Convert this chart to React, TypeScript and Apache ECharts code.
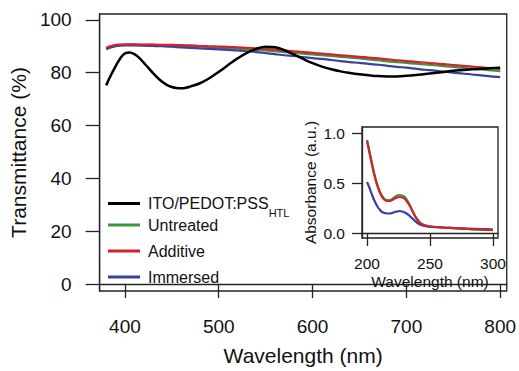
import { useEffect, useRef } from 'react';
import * as echarts from 'echarts';

const mainWavelengths = [380, 390, 400, 410, 420, 430, 440, 450, 460, 470, 480, 490, 500, 510, 520, 530, 540, 550, 560, 570, 580, 590, 600, 610, 620, 630, 640, 650, 660, 670, 680, 690, 700, 710, 720, 730, 740, 750, 760, 770, 780, 790, 800];
const itoWavelengths = [380, 385, 390, 395, 400, 405, 410, 415, 420, 425, 430, 435, 440, 445, 450, 455, 460, 465, 470, 480, 490, 500, 510, 520, 530, 540, 550, 560, 570, 580, 590, 600, 610, 620, 630, 640, 650, 660, 670, 680, 690, 700, 710, 720, 730, 740, 750, 760, 770, 780, 790, 800];
const itoPedot = [75.2, 79.0, 82.4, 85.4, 87.3, 87.6, 87.0, 85.7, 83.8, 81.8, 79.8, 78.0, 76.5, 75.3, 74.6, 74.2, 74.1, 74.3, 74.8, 76.0, 77.9, 80.3, 82.9, 85.4, 87.5, 89.0, 89.8, 89.6, 88.5, 86.9, 85.2, 83.6, 82.3, 81.3, 80.5, 79.9, 79.4, 79.0, 78.7, 78.6, 78.6, 78.8, 79.1, 79.5, 79.9, 80.3, 80.7, 81.0, 81.3, 81.5, 81.7, 81.9];
const untreated = [89.2, 90.3, 90.5, 90.6, 90.5, 90.5, 90.4, 90.3, 90.2, 90.1, 89.9, 89.7, 89.5, 89.3, 89.1, 88.9, 88.6, 88.4, 88.1, 87.8, 87.5, 87.2, 86.9, 86.6, 86.3, 86.0, 85.7, 85.4, 85.0, 84.7, 84.3, 84.0, 83.7, 83.4, 83.1, 82.8, 82.5, 82.2, 81.8, 81.5, 81.2, 80.9, 80.6];
const additive = [89.4, 90.5, 90.7, 90.7, 90.6, 90.6, 90.5, 90.5, 90.4, 90.3, 90.1, 90.0, 89.9, 89.8, 89.6, 89.4, 89.2, 89.0, 88.7, 88.4, 88.1, 87.8, 87.5, 87.2, 86.9, 86.6, 86.3, 86.0, 85.7, 85.4, 85.0, 84.7, 84.4, 84.1, 83.8, 83.5, 83.2, 82.9, 82.6, 82.3, 82.0, 81.7, 81.4];
const immersed = [88.9, 90.0, 90.3, 90.3, 90.2, 90.1, 90.0, 89.8, 89.6, 89.4, 89.2, 89.0, 88.8, 88.6, 88.4, 88.1, 87.8, 87.4, 87.0, 86.6, 86.3, 85.9, 85.5, 85.2, 84.8, 84.4, 84.0, 83.7, 83.3, 83.0, 82.6, 82.2, 81.9, 81.5, 81.1, 80.8, 80.4, 80.0, 79.7, 79.3, 79.0, 78.6, 78.3];

const insetWavelengths = [200, 202, 204, 206, 208, 210, 212, 214, 216, 218, 220, 222, 224, 226, 228, 230, 232, 234, 236, 238, 240, 242, 244, 246, 248, 250, 260, 270, 280, 290, 300];
const insetUntreated = [0.93, 0.81, 0.69, 0.58, 0.49, 0.42, 0.37, 0.34, 0.33, 0.33, 0.34, 0.36, 0.375, 0.38, 0.375, 0.36, 0.325, 0.28, 0.225, 0.175, 0.135, 0.105, 0.087, 0.076, 0.07, 0.065, 0.055, 0.047, 0.04, 0.034, 0.028];
const insetAdditive = [0.92, 0.80, 0.68, 0.57, 0.48, 0.41, 0.36, 0.33, 0.32, 0.32, 0.33, 0.345, 0.355, 0.36, 0.355, 0.34, 0.31, 0.27, 0.22, 0.17, 0.13, 0.10, 0.085, 0.075, 0.07, 0.065, 0.055, 0.048, 0.04, 0.035, 0.03];
const insetImmersed = [0.51, 0.45, 0.38, 0.32, 0.27, 0.235, 0.21, 0.2, 0.195, 0.195, 0.2, 0.21, 0.215, 0.22, 0.215, 0.205, 0.19, 0.17, 0.145, 0.12, 0.1, 0.085, 0.075, 0.07, 0.065, 0.062, 0.055, 0.05, 0.045, 0.04, 0.035];

const mainXTicks = [400, 500, 600, 700, 800];
const mainYTicks = [0, 20, 40, 60, 80, 100];
const insetXTicks = [200, 250, 300];
const insetYTicks = [0, 0.5, 1.0];

const seriesNames = ['ITO/PEDOT:PSS HTL', 'Untreated', 'Additive', 'Immersed'];
const seriesColors = ['#000000', '#3f9440', '#d2232a', '#3b3f9e'];

const FONT = '"Liberation Sans", Arial, Helvetica, sans-serif';
const TEXT = '#111111';

const pairs = (xs: number[], ys: number[]) => xs.map((x, i) => [x, ys[i]]);

export default function App() {
  const ref = useRef<HTMLDivElement>(null);
  useEffect(() => {
    if (!ref.current) return;
    const chart = echarts.init(ref.current, undefined, { renderer: 'svg' });
    const axisLine = { show: true, lineStyle: { color: '#222', width: 1.3 } };
    const legendRows = [189, 217, 243, 269];
    const option: any = {
      animation: false,
      backgroundColor: '#fff',
      textStyle: { fontFamily: FONT },
      grid: [
        { left: 99, top: 14, width: 409, height: 282, show: true, borderColor: '#222', borderWidth: 1.3, backgroundColor: 'transparent' },
        { left: 362, top: 127, width: 136, height: 111, show: true, borderColor: '#222', borderWidth: 1.3, backgroundColor: 'transparent' },
      ],
      xAxis: [
        {
          type: 'value', gridIndex: 0, min: 373, max: 807,
          axisLine,
          axisTick: { show: true, customValues: mainXTicks, length: 14, lineStyle: { color: '#222', width: 1.3 } },
          axisLabel: { customValues: mainXTicks, margin: 26, fontSize: 19, color: TEXT, fontFamily: FONT },
          splitLine: { show: false },
          name: 'Wavelength (nm)', nameLocation: 'middle', nameGap: 54,
          nameTextStyle: { fontSize: 21, color: TEXT, fontFamily: FONT },
        },
        {
          type: 'value', gridIndex: 1, min: 196, max: 304,
          axisLine,
          axisTick: { show: true, customValues: insetXTicks, length: 13, lineStyle: { color: '#222', width: 1.3 } },
          axisLabel: { customValues: insetXTicks, margin: 17, fontSize: 15.5, color: TEXT, fontFamily: FONT },
          splitLine: { show: false },
          name: 'Wavelength (nm)', nameLocation: 'middle', nameGap: 35,
          nameTextStyle: { fontSize: 15.5, color: TEXT, fontFamily: FONT },
        },
      ],
      yAxis: [
        {
          type: 'value', gridIndex: 0, min: -2.6, max: 102.2,
          axisLine,
          axisTick: { show: true, customValues: mainYTicks, length: 14, lineStyle: { color: '#222', width: 1.3 } },
          axisLabel: { customValues: mainYTicks, margin: 28, fontSize: 19, color: TEXT, fontFamily: FONT },
          splitLine: { show: false },
          name: 'Transmittance (%)', nameLocation: 'middle', nameGap: 66,
          nameTextStyle: { fontSize: 21, color: TEXT, fontFamily: FONT },
        },
        {
          type: 'value', gridIndex: 1, min: -0.05, max: 1.06,
          axisLine,
          axisTick: { show: true, customValues: insetYTicks, length: 10, lineStyle: { color: '#222', width: 1.3 } },
          axisLabel: { customValues: insetYTicks, margin: 17, fontSize: 15.5, color: TEXT, fontFamily: FONT, formatter: (v: number) => v.toFixed(1) },
          splitLine: { show: false },
          name: 'Absorbance (a.u.)', nameLocation: 'middle', nameGap: 44,
          nameTextStyle: { fontSize: 15.5, color: TEXT, fontFamily: FONT },
        },
      ],
      legend: seriesNames.map((name, i) => ({
        data: [name],
        left: 108,
        top: legendRows[i],
        padding: 0,
        icon: 'rect',
        itemWidth: 32,
        itemHeight: 3,
        selectedMode: false,
        formatter: i === 0 ? () => '{a|ITO/PEDOT:PSS}{s|HTL}' : undefined,
        textStyle: i === 0
          ? {
              color: TEXT, fontFamily: FONT, fontSize: 16, padding: [0, 0, 0, 3],
              rich: {
                a: { fontSize: 16, color: TEXT, fontFamily: FONT, lineHeight: 34, verticalAlign: 'middle' },
                s: { fontSize: 11, color: TEXT, fontFamily: FONT, lineHeight: 11, verticalAlign: 'middle', padding: [18, 0, 0, 0] },
              },
            }
          : { color: TEXT, fontFamily: FONT, fontSize: 16, padding: [0, 0, 0, 3] },
      })),
      series: [
        { name: seriesNames[1], type: 'line', xAxisIndex: 0, yAxisIndex: 0, data: pairs(mainWavelengths, untreated), showSymbol: false, smooth: 0.3, lineStyle: { width: 2.2, color: seriesColors[1] }, itemStyle: { color: seriesColors[1] } },
        { name: seriesNames[3], type: 'line', xAxisIndex: 0, yAxisIndex: 0, data: pairs(mainWavelengths, immersed), showSymbol: false, smooth: 0.3, lineStyle: { width: 2.2, color: seriesColors[3] }, itemStyle: { color: seriesColors[3] } },
        { name: seriesNames[2], type: 'line', xAxisIndex: 0, yAxisIndex: 0, data: pairs(mainWavelengths, additive), showSymbol: false, smooth: 0.3, lineStyle: { width: 2.2, color: seriesColors[2] }, itemStyle: { color: seriesColors[2] } },
        { name: seriesNames[0], type: 'line', xAxisIndex: 0, yAxisIndex: 0, data: pairs(itoWavelengths, itoPedot), showSymbol: false, smooth: 0.4, lineStyle: { width: 2.5, color: seriesColors[0] }, itemStyle: { color: seriesColors[0] } },
        { name: seriesNames[1], type: 'line', xAxisIndex: 1, yAxisIndex: 1, data: pairs(insetWavelengths, insetUntreated), showSymbol: false, smooth: 0.3, lineStyle: { width: 2.2, color: seriesColors[1] }, itemStyle: { color: seriesColors[1] } },
        { name: seriesNames[3], type: 'line', xAxisIndex: 1, yAxisIndex: 1, data: pairs(insetWavelengths, insetImmersed), showSymbol: false, smooth: 0.3, lineStyle: { width: 2.2, color: seriesColors[3] }, itemStyle: { color: seriesColors[3] } },
        { name: seriesNames[2], type: 'line', xAxisIndex: 1, yAxisIndex: 1, data: pairs(insetWavelengths, insetAdditive), showSymbol: false, smooth: 0.3, lineStyle: { width: 2.2, color: seriesColors[2] }, itemStyle: { color: seriesColors[2] } },
      ],
    };
    chart.setOption(option);
    return () => chart.dispose();
  }, []);
  return <div ref={ref} style={{ position: 'fixed', left: 0, top: 0, width: 519, height: 371 }} />;
}
